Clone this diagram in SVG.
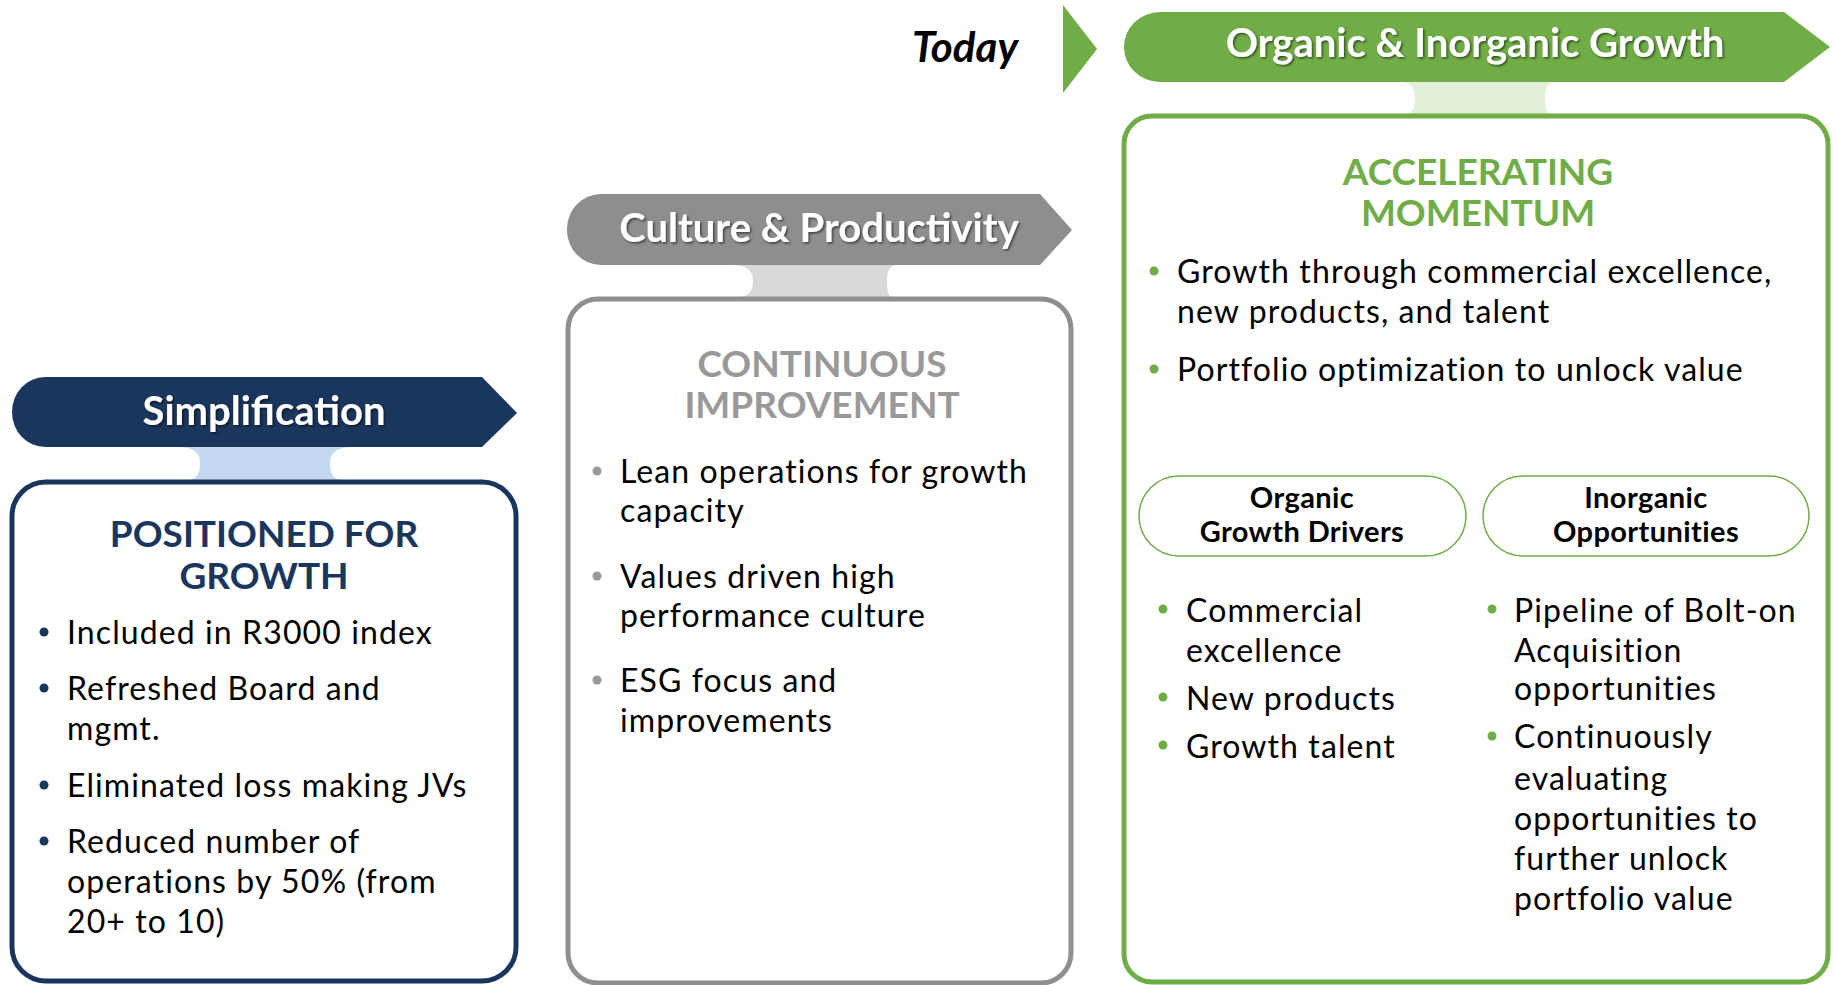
<svg xmlns="http://www.w3.org/2000/svg" width="1836" height="985" viewBox="0 0 1836 985">
<defs>
<style>
text{font-family:Lato,"Open Sans","Liberation Sans",sans-serif;}
.ban{font-size:40px;font-weight:700;fill:#fff;text-anchor:middle;}
.hd{font-size:37px;font-weight:700;text-anchor:middle;}
.bd{font-size:32px;fill:#000;letter-spacing:1.1px;}
.pl{font-size:29px;font-weight:700;fill:#000;text-anchor:middle;letter-spacing:0.4px;}
</style>
<filter id="sh" x="-10%" y="-30%" width="120%" height="160%">
<feDropShadow dx="1.5" dy="1.5" stdDeviation="1" flood-color="#000" flood-opacity="0.55"/>
</filter>
</defs>
<rect width="1836" height="985" fill="#fff"/>

<g id="today">
<text x="965" y="62" text-anchor="middle" style="font-size:42px;font-weight:700;font-style:italic" fill="#000">Today</text>
<polygon points="1063,5 1097,49 1063,93" fill="#70ad47"/>
</g>

<g id="connectors">
<path d="M178,447 L352,447 Q330,447 330,463 Q330,480 342,480 L188,480 Q200,480 200,463 Q200,447 178,447 Z" fill="#c5d8ef"/>
<path d="M733,265 L897,265 Q887,265 887,281 Q887,297 892,297 L738,297 Q753,297 753,281 Q753,265 733,265 Z" fill="#d9d9d9"/>
<path d="M1400,82 L1556,82 Q1545,82 1545,98 Q1545,114 1552,114 L1404,114 Q1415,114 1415,98 Q1415,82 1400,82 Z" fill="#e2efda"/>
</g>

<g id="simplification">
<path d="M45,377 L482,377 L517,413 L482,447 L45,447 A33,35 0 0 1 12,412 A33,35 0 0 1 45,377 Z" fill="#1b365d"/>
<text class="ban" x="264" y="425" filter="url(#sh)">Simplification</text>
</g>

<g id="box1">
<rect x="12" y="482" width="504" height="499" rx="34" fill="#fff" stroke="#1b365d" stroke-width="5"/>
<text class="hd" x="264" y="547" fill="#1b365d">POSITIONED FOR</text>
<text class="hd" x="264" y="589" fill="#1b365d">GROWTH</text>
<g fill="#1b365d"><circle cx="44" cy="632" r="4.5"/><circle cx="44" cy="688" r="4.5"/><circle cx="44" cy="785" r="4.5"/><circle cx="44" cy="841" r="4.5"/></g>
<text class="bd" x="67" y="644">Included in R3000 index</text>
<text class="bd" x="67" y="700">Refreshed Board and</text>
<text class="bd" x="67" y="740">mgmt.</text>
<text class="bd" x="67" y="797">Eliminated loss making JVs</text>
<text class="bd" x="67" y="853">Reduced number of</text>
<text class="bd" x="67" y="893">operations by 50% (from</text>
<text class="bd" x="67" y="933">20+ to 10)</text>
</g>

<g id="culture">
<path d="M601,194 L1040,194 L1072,230 L1040,265 L601,265 A34,35 0 0 1 567,230 A34,35 0 0 1 601,194 Z" fill="#8c8f8e"/>
<text class="ban" x="819" y="242" filter="url(#sh)">Culture &amp; Productivity</text>
</g>

<g id="box2">
<rect x="568" y="299" width="503" height="684" rx="30" fill="#fff" stroke="#8f8f8f" stroke-width="5"/>
<text class="hd" x="822" y="377" fill="#999999">CONTINUOUS</text>
<text class="hd" x="822" y="418" fill="#999999">IMPROVEMENT</text>
<g fill="#999999"><circle cx="597" cy="471" r="4.5"/><circle cx="597" cy="576" r="4.5"/><circle cx="597" cy="680" r="4.5"/></g>
<text class="bd" x="620" y="483">Lean operations for growth</text>
<text class="bd" x="620" y="522">capacity</text>
<text class="bd" x="620" y="588">Values driven high</text>
<text class="bd" x="620" y="627">performance culture</text>
<text class="bd" x="620" y="692">ESG focus and</text>
<text class="bd" x="620" y="732">improvements</text>
</g>

<g id="growth">
<path d="M1160,12 L1784,12 L1830,47 L1784,82 L1160,82 A36,35 0 0 1 1124,47 A36,35 0 0 1 1160,12 Z" fill="#70ad47"/>
<text class="ban" x="1475" y="57" filter="url(#sh)">Organic &amp; Inorganic Growth</text>
</g>

<g id="box3">
<rect x="1124" y="116" width="704" height="866" rx="28" fill="#fff" stroke="#70ad47" stroke-width="5"/>
<text class="hd" x="1478" y="185" fill="#70ad47">ACCELERATING</text>
<text class="hd" x="1478" y="226" fill="#70ad47">MOMENTUM</text>
<g fill="#70ad47"><circle cx="1154" cy="271" r="4.5"/><circle cx="1154" cy="369" r="4.5"/></g>
<text class="bd" x="1177" y="283">Growth through commercial excellence,</text>
<text class="bd" x="1177" y="323">new products, and talent</text>
<text class="bd" x="1177" y="381">Portfolio optimization to unlock value</text>
</g>

<g id="organic">
<rect x="1139" y="476" width="327" height="80" rx="40" fill="#fff" stroke="#70ad47" stroke-width="1.5"/>
<text class="pl" x="1302" y="508">Organic</text>
<text class="pl" x="1302" y="542">Growth Drivers</text>
<g fill="#70ad47"><circle cx="1163" cy="609" r="4.5"/><circle cx="1163" cy="697" r="4.5"/><circle cx="1163" cy="745" r="4.5"/></g>
<text class="bd" x="1186" y="622">Commercial</text>
<text class="bd" x="1186" y="662">excellence</text>
<text class="bd" x="1186" y="710">New products</text>
<text class="bd" x="1186" y="758">Growth talent</text>
</g>

<g id="inorganic">
<rect x="1483" y="476" width="326" height="80" rx="40" fill="#fff" stroke="#70ad47" stroke-width="1.5"/>
<text class="pl" x="1646" y="508">Inorganic</text>
<text class="pl" x="1646" y="542">Opportunities</text>
<g fill="#70ad47"><circle cx="1492" cy="609" r="4.5"/><circle cx="1492" cy="736" r="4.5"/></g>
<text class="bd" x="1514" y="622">Pipeline of Bolt-on</text>
<text class="bd" x="1514" y="662">Acquisition</text>
<text class="bd" x="1514" y="700">opportunities</text>
<text class="bd" x="1514" y="748">Continuously</text>
<text class="bd" x="1514" y="790">evaluating</text>
<text class="bd" x="1514" y="830">opportunities to</text>
<text class="bd" x="1514" y="870">further unlock</text>
<text class="bd" x="1514" y="910">portfolio value</text>
</g>
</svg>
